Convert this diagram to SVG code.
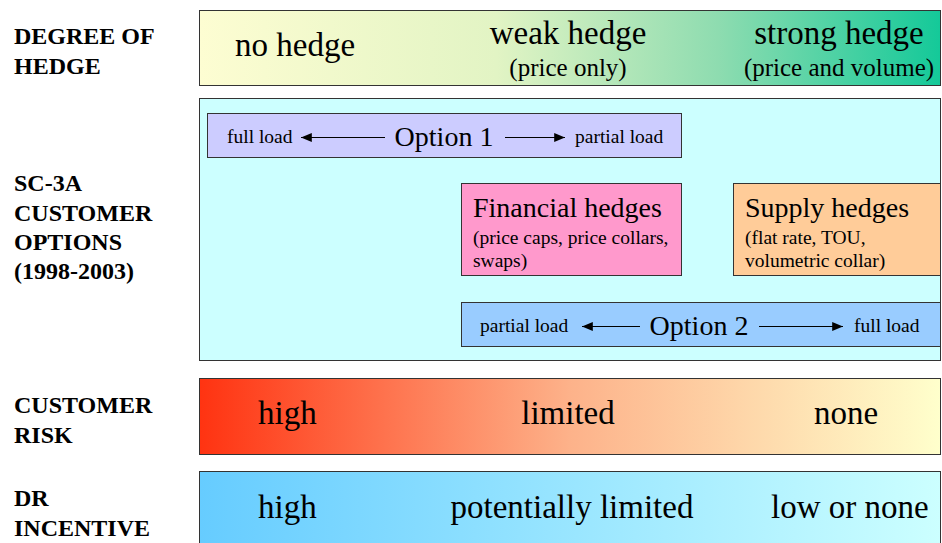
<svg xmlns="http://www.w3.org/2000/svg" width="942" height="543" viewBox="0 0 942 543">
<defs>
<linearGradient id="gHedge" x1="0" y1="0" x2="1" y2="0">
<stop offset="0" stop-color="#fdfdd2"/>
<stop offset="0.4" stop-color="#e2f4c4"/>
<stop offset="0.7" stop-color="#8edcb0"/>
<stop offset="1" stop-color="#14c999"/>
</linearGradient>
<linearGradient id="gRisk" x1="0" y1="0" x2="1" y2="0">
<stop offset="0" stop-color="#ff3311"/>
<stop offset="0.5" stop-color="#fdb28a"/>
<stop offset="1" stop-color="#ffffcc"/>
</linearGradient>
<linearGradient id="gDR" x1="0" y1="0" x2="1" y2="0">
<stop offset="0" stop-color="#66ccff"/>
<stop offset="1" stop-color="#ccffff"/>
</linearGradient>
<marker id="ah" viewBox="0 0 12 10" refX="12" refY="5" markerWidth="12" markerHeight="9" markerUnits="userSpaceOnUse" orient="auto">
<path d="M0,0 L12,5 L0,10 z" fill="#000"/>
</marker>
</defs>
<style>
.lab{font-family:"Liberation Serif","Times New Roman",serif;font-weight:bold;font-size:24px;fill:#000}
.big{font-family:"Liberation Serif","Times New Roman",serif;font-size:33px;fill:#000}
.mid{font-family:"Liberation Serif","Times New Roman",serif;font-size:25px;fill:#000}
.opt{font-family:"Liberation Serif","Times New Roman",serif;font-size:28px;fill:#000}
.sm{font-family:"Liberation Serif","Times New Roman",serif;font-size:19.5px;fill:#000}
.box{stroke:#333;stroke-width:1}
.arr{stroke:#000;stroke-width:1.2;fill:none}
</style>
<rect width="942" height="543" fill="#fff"/>

<g id="labels">
<text class="lab" x="14" y="44">DEGREE OF</text>
<text class="lab" x="14" y="74">HEDGE</text>
<text class="lab" x="14" y="191">SC-3A</text>
<text class="lab" x="14" y="221">CUSTOMER</text>
<text class="lab" x="14" y="250">OPTIONS</text>
<text class="lab" x="14" y="279">(1998-2003)</text>
<text class="lab" x="14" y="413">CUSTOMER</text>
<text class="lab" x="14" y="443">RISK</text>
<text class="lab" x="14" y="506">DR</text>
<text class="lab" x="14" y="536">INCENTIVE</text>
</g>

<g id="hedge-bar">
<rect class="box" x="199.5" y="10.5" width="741" height="75" fill="url(#gHedge)"/>
<text class="big" x="235" y="56">no hedge</text>
<text class="big" x="568" y="44" text-anchor="middle">weak hedge</text>
<text class="mid" x="568" y="76" text-anchor="middle">(price only)</text>
<text class="big" x="839" y="44" text-anchor="middle">strong hedge</text>
<text class="mid" x="839" y="76" text-anchor="middle">(price and volume)</text>
</g>

<g id="options-panel">
<rect class="box" x="199.5" y="98.5" width="741" height="262" fill="#ccffff"/>
</g>

<g id="option1">
<rect class="box" x="207.5" y="113.5" width="474" height="44" fill="#ccccff"/>
<text class="sm" x="227" y="143">full load</text>
<text class="opt" x="444" y="146" text-anchor="middle">Option 1</text>
<text class="sm" x="575" y="143">partial load</text>
</g>

<g id="financial">
<rect class="box" x="461.5" y="183.5" width="220" height="92" fill="#ff99cc"/>
<text class="opt" x="473" y="217">Financial hedges</text>
<text class="sm" x="473" y="244">(price caps, price collars,</text>
<text class="sm" x="473" y="267">swaps)</text>
</g>

<g id="supply">
<rect class="box" x="733.5" y="183.5" width="207" height="92" fill="#ffcc99"/>
<text class="opt" x="745" y="217">Supply hedges</text>
<text class="sm" x="745" y="244">(flat rate, TOU,</text>
<text class="sm" x="745" y="267">volumetric collar)</text>
</g>

<g id="option2">
<rect class="box" x="461.5" y="302.5" width="479" height="44" fill="#99ccff"/>
<text class="sm" x="480" y="332">partial load</text>
<text class="opt" x="699" y="335" text-anchor="middle">Option 2</text>
<text class="sm" x="854" y="332">full load</text>
</g>

<g id="risk-bar">
<rect class="box" x="199.5" y="378.5" width="741" height="76" fill="url(#gRisk)"/>
<text class="big" x="258" y="424">high</text>
<text class="big" x="568" y="424" text-anchor="middle">limited</text>
<text class="big" x="814" y="424">none</text>
</g>

<g id="dr-bar">
<rect class="box" x="199.5" y="471.5" width="741" height="75" fill="url(#gDR)"/>
<text class="big" x="258" y="518">high</text>
<text class="big" x="572" y="518" text-anchor="middle">potentially limited</text>
<text class="big" x="771" y="518">low or none</text>
</g>

<g id="connectors">
<line class="arr" x1="385" y1="137.5" x2="301" y2="137.5" marker-end="url(#ah)"/>
<line class="arr" x1="505" y1="137.5" x2="565" y2="137.5" marker-end="url(#ah)"/>
<line class="arr" x1="640" y1="326.5" x2="582" y2="326.5" marker-end="url(#ah)"/>
<line class="arr" x1="759" y1="326.5" x2="843" y2="326.5" marker-end="url(#ah)"/>
</g>
</svg>
